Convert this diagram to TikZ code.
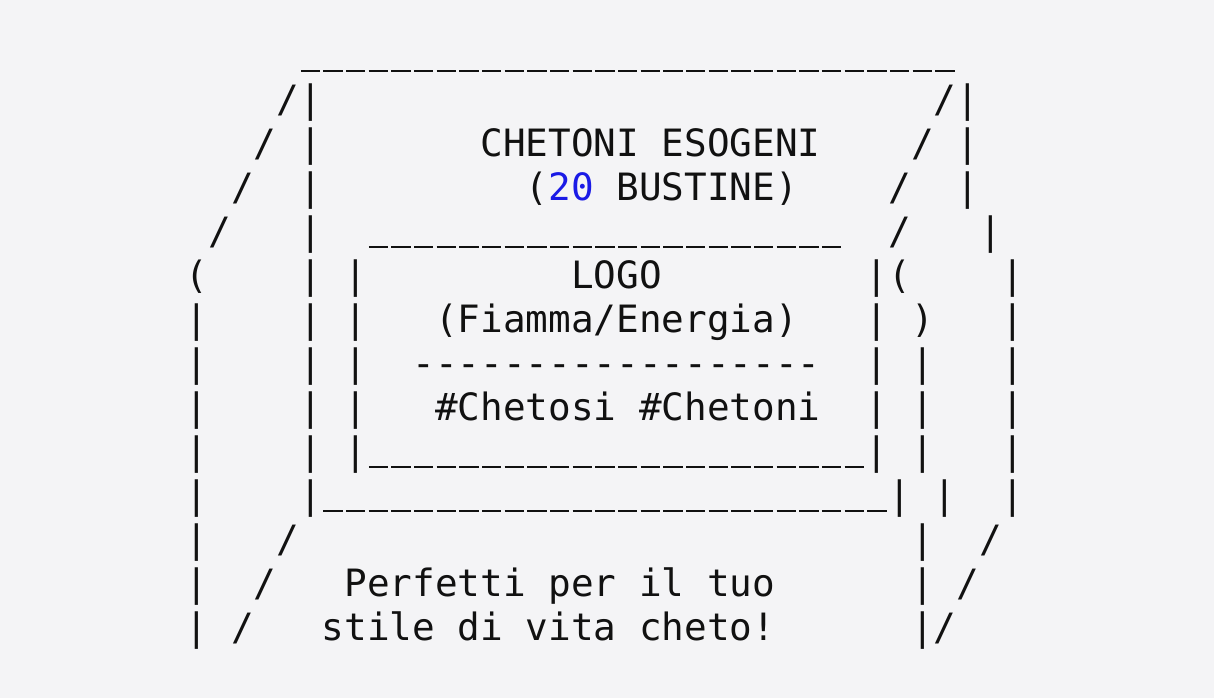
\documentclass[tikz,border=0pt]{standalone}
\usepackage{fontspec}
\usepackage{tikz}
\usetikzlibrary{positioning}
\newfontfamily\boxfont{DejaVu Sans Mono}
\definecolor{paper}{RGB}{244,244,246}
\definecolor{ink}{RGB}{17,17,17}
\definecolor{count}{RGB}{26,26,230}
\tikzstyle{ascii}=[anchor=base west, inner sep=0pt, text=ink, font={\boxfont\fontsize{18.82pt}{22pt}\selectfont}]
\newcommand{\run}[2]{\foreach \k in {1,...,#1}{#2}}
\newcommand{\uscore}{\makebox[0.60205em]{\rule[-1.8pt]{9.7pt}{1.35pt}}}
\frenchspacing

\begin{document}
\begin{tikzpicture}[x=11.333pt, y=-22pt]
        \useasboundingbox[fill=paper] (-92.7pt,34.35pt) rectangle (514.3pt,-314.65pt);

        % lid and back corners
        \node (lid)[ascii] at (5,0) {\run{29}{\uscore}};
        \node (backL)[ascii] at (4,1) {/|};
        \node (backR)[ascii] at (33,1) {/|};

        % slanted edges of the lid
        \node (slantL2)[ascii] at (3,2) {/};
        \node (slantL3)[ascii] at (2,3) {/};
        \node (slantL4)[ascii] at (1,4) {/};
        \node (slantR2)[ascii] at (32,2) {/};
        \node (slantR3)[ascii] at (31,3) {/};
        \node (slantR4)[ascii] at (31,4) {/};

        % vertical edges
        \foreach \r in {2,...,9}{
            \node (backEdgeL\r)[ascii] at (5,\r) {|};
        };
        \foreach \r in {2,3}{
            \node (backEdgeR\r)[ascii] at (34,\r) {|};
        };
        \node (backEdgeR4)[ascii] at (35,4) {|};
        \node (cornerL)[ascii] at (0,5) {(};
        \foreach \r in {6,...,13}{
            \node (frontL\r)[ascii] at (0,\r) {|};
        };
        \foreach \r in {5,...,10}{
            \node (frontR\r)[ascii] at (36,\r) {|};
        };
        \foreach \r in {5,...,8}{
            \node (labelL\r)[ascii] at (7,\r) {|};
        };
        \foreach \r in {6,7,8}{
            \node (labelR\r)[ascii] at (30,\r) {|};
        };
        \foreach \r in {7,8,9,11,12,13}{
            \node (sideR\r)[ascii] at (32,\r) {|};
        };
        \node (curlOpen)[ascii] at (30,5) {|(};
        \node (curlClose)[ascii] at (32,6) {)};
        \node (sideR10)[ascii] at (33,10) {|};

        % label
        \node (title)[ascii] at (13,2) {CHETONI ESOGENI};
        \node (sachets)[ascii] at (15,3) {(\textcolor{count}{20} BUSTINE)};
        \node (labelTop)[ascii] at (8,4) {\run{21}{\uscore}};
        \node (logo)[ascii] at (17,5) {LOGO};
        \node (flame)[ascii] at (11,6) {(Fiamma/Energia)};
        \node (rule)[ascii] at (10,7) {\run{18}{{-}}};
        \node (tags)[ascii] at (11,8) {\#Chetosi \#Chetoni};
        \node (labelBottom)[ascii] at (7,9) {|\run{22}{\uscore}|};
        \node (frontBottom)[ascii] at (5,10) {|\run{25}{\uscore}|};

        % base of the box
        \node (baseL11)[ascii] at (4,11) {/};
        \node (baseL12)[ascii] at (3,12) {/};
        \node (baseL13)[ascii] at (2,13) {/};
        \node (baseR11)[ascii] at (35,11) {/};
        \node (baseR12)[ascii] at (34,12) {/};
        \node (baseR13)[ascii] at (33,13) {/};
        \node (slogan1)[ascii] at (7,12) {Perfetti per il tuo};
        \node (slogan2)[ascii] at (6,13) {stile di vita cheto!};

    \end{tikzpicture}
\end{document}
